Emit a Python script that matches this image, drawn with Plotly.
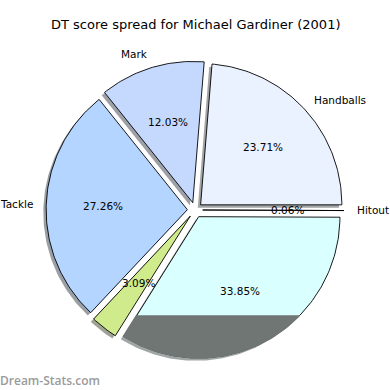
import numpy as np
import plotly.graph_objects as go

labels = ["Handballs", "Mark", "Tackle", "", "", "Hitout"]
values = [23.71, 12.03, 27.26, 3.09, 33.85, 0.06]
pct_text = ["23.71%", "12.03%", "27.26%", "3.09%", "33.85%", "0.06%"]
colors = ["#eaf1ff", "#c5d9ff", "#b3d5ff", "#d0eb8c", "#d9ffff", "#e0e0e0"]
explode = [0.054] * 6

title = "DT score spread for Michael Gardiner (2001)"
watermark = "Dream-Stats.com"

# geometry (pixels)
W = H = 390
CX, CY, R = 195.0, 210.0, 141.25
SH = 0.02  # shadow offset (pie units)
CUT_Y = -(316 - CY) / R  # level of dark band on last big wedge
BAND_IDX = 4

xr = [-CX / R, (W - CX) / R]
yr = [-(H - CY) / R, CY / R]


def hex2rgb(h):
    h = h.lstrip("#")
    return np.array([int(h[i:i + 2], 16) / 255 for i in (0, 2, 4)])


def shadow_color(h):
    c = 0.3 * hex2rgb(h)
    c = 0.5 * c + 0.5 * np.ones(3)
    return "rgb(%d,%d,%d)" % tuple((c * 255).round())


def wedge(t1, t2, cx, cy, r=1.0):
    n = max(int(abs(t2 - t1) / 1.0), 2)
    th = np.radians(np.linspace(t1, t2, n + 1))
    xs = np.concatenate([[cx], cx + r * np.cos(th), [cx]])
    ys = np.concatenate([[cy], cy + r * np.sin(th), [cy]])
    return xs, ys


def clip_below(xs, ys, yc):
    pts = list(zip(xs, ys))
    out = []
    for i in range(len(pts)):
        p, q = pts[i], pts[(i + 1) % len(pts)]
        pin, qin = p[1] <= yc, q[1] <= yc
        if pin:
            out.append(p)
        if pin != qin:
            t = (yc - p[1]) / (q[1] - p[1])
            out.append((p[0] + t * (q[0] - p[0]), yc))
    if not out:
        return [], []
    a = np.array(out + [out[0]])
    return a[:, 0], a[:, 1]


total = sum(values)
angles = np.cumsum([0] + [v / total * 360 for v in values])

fig = go.Figure()
geo = []
for i, v in enumerate(values):
    t1, t2 = angles[i], angles[i + 1]
    mid = np.radians((t1 + t2) / 2)
    ox, oy = explode[i] * np.cos(mid), explode[i] * np.sin(mid)
    geo.append((t1, t2, mid, ox, oy))

# shadows
for i, (t1, t2, mid, ox, oy) in enumerate(geo):
    xs, ys = wedge(t1, t2, ox - SH, oy - SH)
    fig.add_trace(go.Scatter(x=xs, y=ys, mode="lines", fill="toself",
                             fillcolor=shadow_color(colors[i]),
                             line=dict(width=0), hoverinfo="skip", showlegend=False))
# wedges
for i, (t1, t2, mid, ox, oy) in enumerate(geo):
    xs, ys = wedge(t1, t2, ox, oy)
    fig.add_trace(go.Scatter(x=xs, y=ys, mode="lines", fill="toself",
                             fillcolor=colors[i],
                             line=dict(width=0.9, color="black"), hoverinfo="skip", showlegend=False))
# dark band on the large wedge
t1, t2, mid, ox, oy = geo[BAND_IDX]
xs, ys = wedge(t1, t2, ox, oy)
bx, by = clip_below(xs, ys, CUT_Y)
fig.add_trace(go.Scatter(x=bx, y=by, mode="lines", fill="toself", fillcolor="#6f7674",
                         line=dict(width=1.5, color="#6f7674"), hoverinfo="skip", showlegend=False))

font = dict(family="DejaVu Sans", size=10.5, color="black")
ann = []
for i, (t1, t2, mid, ox, oy) in enumerate(geo):
    c, s = np.cos(mid), np.sin(mid)
    if labels[i]:
        ann.append(dict(x=ox + 1.1 * c, y=oy + 1.1 * s, text=labels[i], showarrow=False,
                        xanchor="left" if c > 0 else "right", yanchor="middle", font=font,
                        borderpad=0, borderwidth=0, xshift=-1 if c > 0 else 1))
    ann.append(dict(x=ox + 0.6 * c, y=oy + 0.6 * s, text=pct_text[i], showarrow=False,
                    xanchor="center", yanchor="middle", font=font))

ann.append(dict(x=0.5, y=1 - 25 / H, xref="paper", yref="paper", text=title, showarrow=False,
                xanchor="center", yanchor="middle",
                font=dict(family="DejaVu Sans", size=13, color="black")))
ann.append(dict(x=0, y=1 - 380 / H, xref="paper", yref="paper", text=watermark, showarrow=False,
                xanchor="left", yanchor="middle", borderpad=0, borderwidth=0,
                font=dict(family="Open Sans", size=12, color="#9a9a9a", weight=600)))

fig.update_layout(
    width=W, height=H, margin=dict(l=0, r=0, t=0, b=0),
    paper_bgcolor="white", plot_bgcolor="white",
    xaxis=dict(range=xr, visible=False, fixedrange=True),
    yaxis=dict(range=yr, visible=False, fixedrange=True),
    annotations=ann, showlegend=False,
)
fig.write_html("out.html", config={"displayModeBar": False})
